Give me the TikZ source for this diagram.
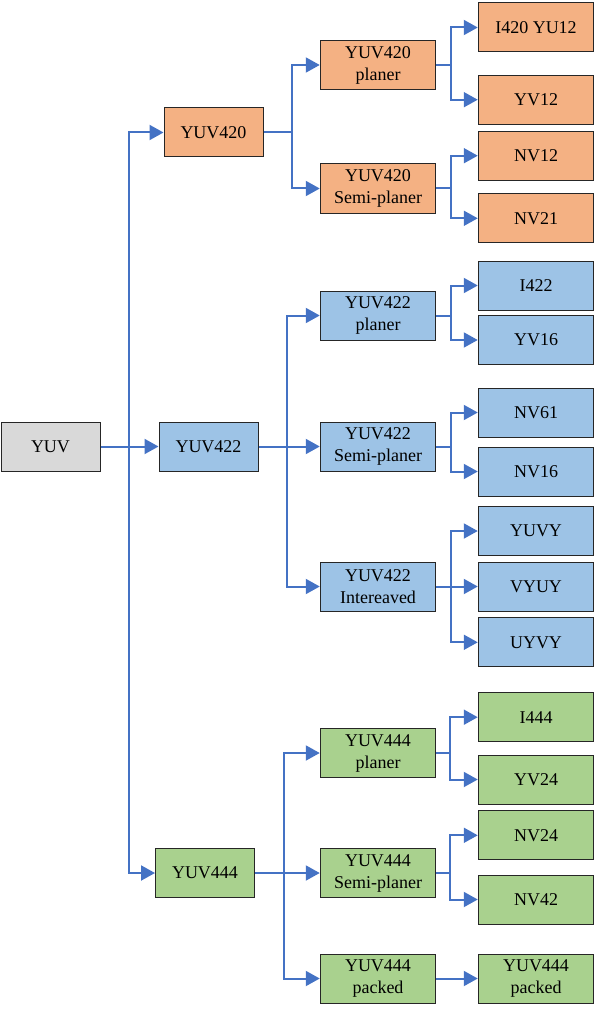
\documentclass[tikz,border=0pt]{standalone}
\usepackage{fontspec}
\setmainfont{Liberation Serif}
\usetikzlibrary{arrows.meta}
\definecolor{cor}{HTML}{F4B183}
\definecolor{cbl}{HTML}{9DC3E6}
\definecolor{cgr}{HTML}{A9D18E}
\definecolor{cgy}{HTML}{D9D9D9}
\definecolor{cln}{HTML}{4472C4}
\begin{document}
\begin{tikzpicture}[x=1pt,y=-1pt,
  box/.style={draw=black!85,line width=1pt,inner sep=0pt,align=center,
    font=\fontsize{18}{22}\selectfont,minimum height=49pt},
  lone/.style={box,minimum width=99pt},
  ltwo/.style={box,minimum width=115.5pt},
  arr/.style={draw=cln,line width=2pt,-{Triangle[length=14pt,width=15pt]}},
  ln/.style={draw=cln,line width=2pt}]
\useasboundingbox (0,0) rectangle (595,1011);
% level 0/1
\node[lone,fill=cgy] (yuv) at (50.5,446.5) {YUV};
\node[lone,fill=cor] (y420) at (213.5,132.5) {YUV420};
\node[lone,fill=cbl] (y422) at (208.5,446.5) {YUV422};
\node[lone,fill=cgr] (y444) at (205,873) {YUV444};
% level 2
\node[ltwo,fill=cor] (p420) at (378,65) {YUV420\\planer};
\node[ltwo,fill=cor] (s420) at (378,188.5) {YUV420\\Semi-planer};
\node[ltwo,fill=cbl] (p422) at (378,315.5) {YUV422\\planer};
\node[ltwo,fill=cbl] (s422) at (378,446.5) {YUV422\\Semi-planer};
\node[ltwo,fill=cbl] (i422) at (378,586.5) {YUV422\\Intereaved};
\node[ltwo,fill=cgr] (p444) at (378,753) {YUV444\\planer};
\node[ltwo,fill=cgr] (s444) at (378,873) {YUV444\\Semi-planer};
\node[ltwo,fill=cgr] (k444) at (378,978.5) {YUV444\\packed};
% level 3
\node[ltwo,fill=cor] (i420) at (536,27.5) {I420 YU12};
\node[ltwo,fill=cor] (yv12) at (536,99.7) {YV12};
\node[ltwo,fill=cor] (nv12) at (536,155.7) {NV12};
\node[ltwo,fill=cor] (nv21) at (536,218.3) {NV21};
\node[ltwo,fill=cbl] (i422b) at (536,285.5) {I422};
\node[ltwo,fill=cbl] (yv16) at (536,340) {YV16};
\node[ltwo,fill=cbl] (nv61) at (536,412.5) {NV61};
\node[ltwo,fill=cbl] (nv16) at (536,471.5) {NV16};
\node[ltwo,fill=cbl] (yuvy) at (536,531) {YUVY};
\node[ltwo,fill=cbl] (vyuy) at (536,586.5) {VYUY};
\node[ltwo,fill=cbl] (uyvy) at (536,642.3) {UYVY};
\node[ltwo,fill=cgr] (i444) at (536,717.2) {I444};
\node[ltwo,fill=cgr] (yv24) at (536,779.5) {YV24};
\node[ltwo,fill=cgr] (nv24) at (536,835.3) {NV24};
\node[ltwo,fill=cgr] (nv42) at (536,899.5) {NV42};
\node[ltwo,fill=cgr] (k444b) at (536,978.5) {YUV444\\packed};
% branch points
\coordinate (t0) at (129,446.5);
\coordinate (b420) at (292.3,132.5);
\coordinate (b422) at (287.3,446.5);
\coordinate (b444) at (283.7,873);
\coordinate (bp420) at (450.7,65);
\coordinate (bs420) at (450.7,188.5);
\coordinate (bp422) at (450.7,315.5);
\coordinate (bs422) at (450.7,446.5);
\coordinate (bi422) at (450.7,586.5);
\coordinate (bp444) at (450,753);
\coordinate (bs444) at (450,873);
% trunk
\draw[arr] (yuv.east) -- (y422.west);
\draw[arr] (t0) |- (y420.west);
\draw[arr] (t0) |- (y444.west);
% 420
\draw[ln] (y420.east) -- (b420);
\draw[arr] (b420) |- (p420.west);
\draw[arr] (b420) |- (s420.west);
\draw[ln] (p420.east) -- (bp420);
\draw[arr] (bp420) |- (i420.west);
\draw[arr] (bp420) |- (yv12.west);
\draw[ln] (s420.east) -- (bs420);
\draw[arr] (bs420) |- (nv12.west);
\draw[arr] (bs420) |- (nv21.west);
% 422
\draw[arr] (y422.east) -- (s422.west);
\draw[arr] (b422) |- (p422.west);
\draw[arr] (b422) |- (i422.west);
\draw[ln] (p422.east) -- (bp422);
\draw[arr] (bp422) |- (i422b.west);
\draw[arr] (bp422) |- (yv16.west);
\draw[ln] (s422.east) -- (bs422);
\draw[arr] (bs422) |- (nv61.west);
\draw[arr] (bs422) |- (nv16.west);
\draw[arr] (i422.east) -- (vyuy.west);
\draw[arr] (bi422) |- (yuvy.west);
\draw[arr] (bi422) |- (uyvy.west);
% 444
\draw[arr] (y444.east) -- (s444.west);
\draw[arr] (b444) |- (p444.west);
\draw[arr] (b444) |- (k444.west);
\draw[ln] (p444.east) -- (bp444);
\draw[arr] (bp444) |- (i444.west);
\draw[arr] (bp444) |- (yv24.west);
\draw[ln] (s444.east) -- (bs444);
\draw[arr] (bs444) |- (nv24.west);
\draw[arr] (bs444) |- (nv42.west);
\draw[arr] (k444.east) -- (k444b.west);
\end{tikzpicture}
\end{document}
